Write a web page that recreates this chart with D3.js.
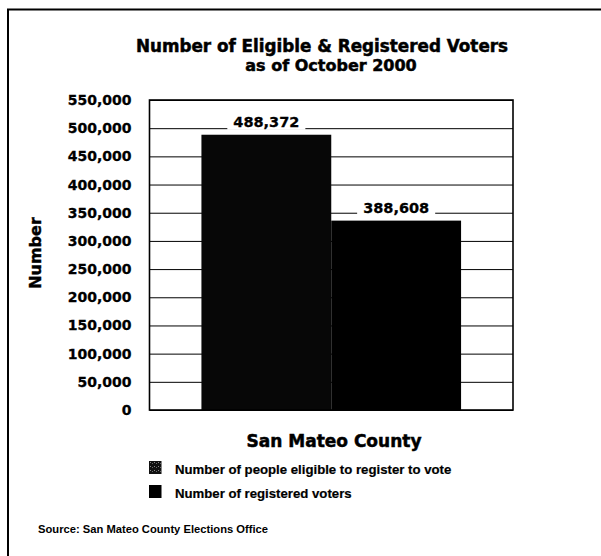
<!DOCTYPE html>
<html>
<head>
<meta charset="utf-8">
<script src="https://cdn.jsdelivr.net/npm/d3@7"></script>
<style>
  body { margin: 0; background: #fff; }
  svg { display: block; }
</style>
</head>
<body>
<svg width="601" height="556"></svg>
<script>
// chart data
const categories = ["Number of people eligible to register to vote", "Number of registered voters"];
// bar heights as drawn in the picture (second bar is drawn lower than its label says)
const barValues = [488372, 336000];
const valueLabels = ["488,372", "388,608"];
const yTicks = [0, 50000, 100000, 150000, 200000, 250000, 300000, 350000, 400000, 450000, 500000, 550000];

const svg = d3.select("svg");
const plot = {left: 149.5, right: 513, top: 100, bottom: 410};
const bold = "'DejaVu Sans', sans-serif";
const narrow = "'Liberation Sans Narrow', 'Liberation Sans', sans-serif";

// outer frame (left and top only, the scan crops the rest)
svg.append("path")
    .attr("d", "M8,556 L8,9.5 L601,9.5")
    .attr("fill", "none")
    .attr("stroke", "#000")
    .attr("stroke-width", 2);

// stipple pattern for the eligible swatch
const defs = svg.append("defs");
const pat = defs.append("pattern")
    .attr("id", "stip")
    .attr("width", 4).attr("height", 4)
    .attr("patternUnits", "userSpaceOnUse");
pat.append("rect").attr("width", 4).attr("height", 4).attr("fill", "#111");
pat.append("rect").attr("x", 1).attr("y", 1).attr("width", 1).attr("height", 1).attr("fill", "#888");
pat.append("rect").attr("x", 3).attr("y", 2).attr("width", 1).attr("height", 1).attr("fill", "#666");

const x = d3.scaleBand()
    .domain(categories)
    .range([plot.left, plot.right])
    .paddingInner(0)
    .paddingOuter(0.4);

const y = d3.scaleLinear()
    .domain([0, 550000])
    .range([plot.bottom, plot.top]);

// title
svg.append("text")
    .attr("x", 322).attr("y", 51.5)
    .attr("text-anchor", "middle")
    .attr("font-family", bold).attr("font-weight", "bold")
    .attr("font-size", 16.8)
    .attr("stroke", "#000").attr("stroke-width", 0.5)
    .text("Number of Eligible & Registered Voters");
svg.append("text")
    .attr("x", 331).attr("y", 71)
    .attr("text-anchor", "middle")
    .attr("font-family", bold).attr("font-weight", "bold")
    .attr("font-size", 16)
    .attr("stroke", "#000").attr("stroke-width", 0.5)
    .text("as of October 2000");

// gridlines + tick labels
const yAxis = d3.axisLeft(y)
    .tickValues(yTicks)
    .tickSize(-(plot.right - plot.left))
    .tickPadding(18)
    .tickFormat(d3.format(","));

const yAxisGroup = svg.append("g")
    .attr("class", "yAxis")
    .attr("transform", `translate(${plot.left}, 0)`)
    .call(yAxis);

yAxisGroup.select(".domain").remove();
yAxisGroup.selectAll("line")
    .attr("stroke", "#000")
    .attr("stroke-width", 1);
yAxisGroup.selectAll("text")
    .attr("font-family", bold)
    .attr("font-weight", "bold")
    .attr("font-size", 14)
    .attr("stroke", "#000")
    .attr("stroke-width", 0.3)
    .attr("fill", "#000");

// bars
svg.selectAll("rect.bar")
    .data(categories)
    .enter()
    .append("rect")
    .attr("class", "bar")
    .attr("x", d => x(d))
    .attr("y", (d, i) => y(barValues[i]))
    .attr("width", x.bandwidth())
    .attr("height", (d, i) => y(0) - y(barValues[i]))
    .attr("fill", (d, i) => i == 0 ? "#070707" : "#000");

// plot box
svg.append("rect")
    .attr("x", plot.left).attr("y", plot.top)
    .attr("width", plot.right - plot.left)
    .attr("height", plot.bottom - plot.top)
    .attr("fill", "none")
    .attr("stroke", "#000")
    .attr("stroke-width", 1.6);

// value labels with white knockout behind
const labels = svg.selectAll("g.vlabel")
    .data(categories)
    .enter()
    .append("g")
    .attr("class", "vlabel");

labels.append("text")
    .attr("x", d => x(d) + x.bandwidth() / 2)
    .attr("y", (d, i) => y(barValues[i]) - 8)
    .attr("text-anchor", "middle")
    .attr("font-family", bold)
    .attr("font-weight", "bold")
    .attr("font-size", 14.5)
    .attr("stroke", "#000")
    .attr("stroke-width", 0.3)
    .text((d, i) => valueLabels[i]);

labels.each(function() {
    const g = d3.select(this);
    const bb = g.select("text").node().getBBox();
    g.insert("rect", "text")
        .attr("x", bb.x - 6)
        .attr("y", bb.y)
        .attr("width", bb.width + 12)
        .attr("height", bb.height)
        .attr("fill", "#fff");
});

// y axis title
svg.append("text")
    .attr("transform", "translate(41, 253) rotate(-90)")
    .attr("text-anchor", "middle")
    .attr("font-family", bold)
    .attr("font-weight", "bold")
    .attr("font-size", 16)
    .attr("stroke", "#000")
    .attr("stroke-width", 0.4)
    .text("Number");

// x axis title
svg.append("text")
    .attr("x", 334).attr("y", 447)
    .attr("text-anchor", "middle")
    .attr("font-family", bold)
    .attr("font-weight", "bold")
    .attr("font-size", 17)
    .attr("stroke", "#000")
    .attr("stroke-width", 0.5)
    .text("San Mateo County");

// legend
const legend = svg.selectAll("g.legend")
    .data(categories)
    .enter()
    .append("g")
    .attr("class", "legend")
    .attr("transform", (d, i) => `translate(149, ${461 + i * 24})`);

legend.append("rect")
    .attr("width", 12.5)
    .attr("height", 13)
    .attr("fill", (d, i) => i == 0 ? "url(#stip)" : "#000");

legend.append("text")
    .attr("x", 26)
    .attr("y", 12.5)
    .attr("font-family", narrow)
    .attr("font-weight", "bold")
    .attr("font-size", 13.2)
    .attr("stroke", "#000")
    .attr("stroke-width", 0.2)
    .text(d => d);

// source
svg.append("text")
    .attr("x", 38).attr("y", 533)
    .attr("font-family", narrow)
    .attr("font-weight", "bold")
    .attr("font-size", 11.2)
    .text("Source: San Mateo County Elections Office");
</script>
</body>
</html>
